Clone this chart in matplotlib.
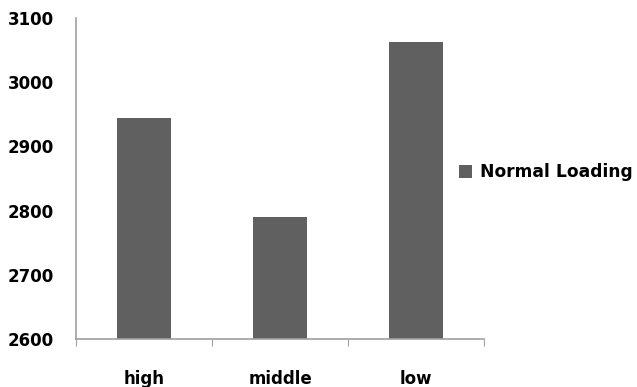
import matplotlib.pyplot as plt
import numpy as np

categories = ['high', 'middle', 'low']
normal_loading = [2944, 2790, 3062]
y_ticks = [2600, 2700, 2800, 2900, 3000, 3100]

plt.rcParams['font.family'] = 'DejaVu Sans'
plt.rcParams['font.weight'] = 'bold'

fig = plt.figure(figsize=(6.37, 3.87), dpi=100)
ax = fig.add_axes([0.1193, 0.124, 0.641, 0.8295])

x = np.arange(len(categories))
ax.bar(x, normal_loading, width=0.4, color='#606060', label='Normal Loading')

ax.set_xlim(-0.5, len(categories) - 0.5)
ax.set_ylim(y_ticks[0], y_ticks[-1])
ax.set_yticks(y_ticks)
ax.tick_params(axis='y', length=0, pad=16, labelsize=12)

# category boundaries carry the tick marks, labels sit in the middle
ax.set_xticks(np.arange(-0.5, len(categories), 1.0))
ax.set_xticklabels([])
ax.set_xticks(x, minor=True)
ax.set_xticklabels(categories, minor=True)
ax.tick_params(axis='x', which='major', length=5, direction='out', color='#a0a0a0')
ax.tick_params(axis='x', which='minor', length=0, pad=22, labelsize=12)

for side in ['top', 'right']:
    ax.spines[side].set_visible(False)
for side in ['left', 'bottom']:
    ax.spines[side].set_color('#a0a0a0')
    ax.spines[side].set_linewidth(1.2)

fig.legend(loc='center left', bbox_to_anchor=(0.697, 0.555), frameon=False,
           fontsize=12.3, handlelength=0.75, handleheight=0.75, handletextpad=0.45)

fig.savefig('out.png', dpi=100)
